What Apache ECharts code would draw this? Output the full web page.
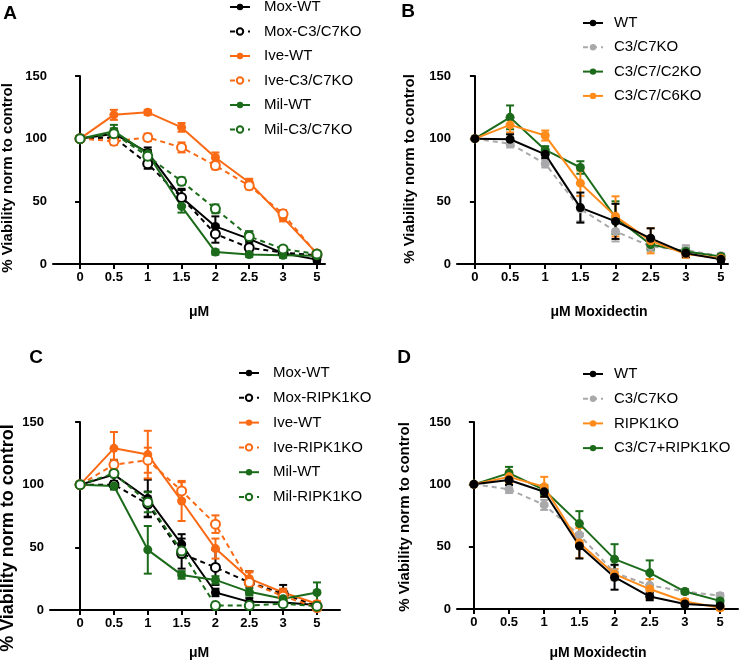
<!DOCTYPE html>
<html>
<head>
<meta charset="utf-8">
<script src="https://cdn.jsdelivr.net/npm/echarts@6/dist/echarts.min.js"></script>
<style>
    html, body { margin: 0; padding: 0; background: #fff; }
    #chart { width: 740px; height: 662px; }
</style>
</head>
<body>
<div id="chart"></div>
<script>
// x轴剂量标签
var doses = ['0', '0.5', '1', '1.5', '2', '2.5', '3', '5'];
var yTicks = [0, 50, 100, 150];

// A 图数据
var aMoxWT = [100, 104, 89, 53, 30, 20, 8.5, 3.5];
var aMoxWTErr = [0, 4, 4, 7, 8, 6, 3, 2];
var aMoxKO = [100, 101, 80, 53, 24, 13, 9, 7];
var aMoxKOErr = [0, 5, 4, 6, 7, 4, 2, 2];
var aIveWT = [100, 119, 121, 109, 85, 65, 37, 8.5];
var aIveWTErr = [0, 4, 2, 3.5, 4, 3, 3, 2];
var aIveKO = [100, 98, 101, 93, 78.5, 62.5, 40, 8];
var aIveKOErr = [0, 3, 3, 4, 3, 3, 3, 2];
var aMilWT = [100, 106, 88, 46, 9.5, 7.5, 7, 6.5];
var aMilWTErr = [0, 5, 3, 5, 2, 2, 2, 2];
var aMilKO = [100, 104, 86, 66, 44, 22, 12, 8];
var aMilKOErr = [0, 4, 3, 3, 3.5, 4, 2, 2];

// B 图数据
var bWT = [100, 99.5, 87.5, 45, 34, 20.5, 8.5, 3.7];
var bWTErr = [0, 4, 3, 12, 14, 8, 3, 2];
var bC3C7 = [100, 96, 80, 44, 26, 14, 11, 6.5];
var bC3C7Err = [0, 3, 3, 10, 8, 4, 4, 2];
var bC2 = [100, 117, 91, 77, 37, 15.5, 10, 6];
var bC2Err = [0, 9.5, 3, 5, 13, 4, 3, 2];
var bC6 = [100, 111, 102.5, 64.5, 38, 18.5, 8, 4.5];
var bC6Err = [0, 6, 4, 10, 16, 10, 3, 2];

// C 图数据
var cMoxWT = [100, 108, 89, 52.5, 14, 6.5, 6, 4];
var cMoxWTErr = [0, 8, 15, 8, 3, 3, 3, 2];
var cMoxKO = [100, 100, 84.5, 45, 34, 22, 13, 3];
var cMoxKOErr = [0, 3, 10, 12, 14, 9, 7, 2];
var cIveWT = [100, 129, 124, 87, 49, 25, 14, 5];
var cIveWTErr = [0, 13, 19, 16, 8, 6, 3, 2];
var cIveKO = [100, 116, 119.5, 95, 68.5, 22, 11, 2];
var cIveKOErr = [0, 4, 10, 7, 7, 8, 4, 2];
var cMilWT = [100, 99, 48, 28, 24, 14.5, 9, 14];
var cMilWTErr = [0, 3, 19, 3, 3, 3, 3, 8];
var cMilKO = [100, 109, 86, 47, 3.5, 3.5, 5, 3];
var cMilKOErr = [0, 10, 8, 5, 2, 2, 2, 2];

// D 图数据
var dWT = [100, 103.5, 94, 50.5, 25.5, 10, 4, 2.5];
var dWTErr = [0, 4, 4, 10, 10, 3, 2, 2];
var dC3C7 = [100, 96, 83.5, 59.5, 29, 19, 14, 10.7];
var dC3C7Err = [0, 3, 4, 6, 6, 5, 2, 2];
var dRIPK1 = [100, 106, 98, 53, 28, 16, 6, 1];
var dRIPK1Err = [0, 5, 8, 12, 4, 8, 2, 2];
var dBoth = [100, 109, 95.5, 68.5, 40, 29, 14, 6.5];
var dBothErr = [0, 5, 4, 10, 12, 10, 2, 2];

// 颜色
var BLACK = '#000000';
var RED_ORANGE = '#FA6A14';
var ORANGE = '#FF8C1A';
var GREEN = '#1B6B1B';
var GRAY = '#A9A9AB';

var FONT = 'Liberation Sans, Arial, sans-serif';

// 基于准备好的dom，初始化echarts实例
var myChart = echarts.init(document.getElementById('chart'));

/**
 * [误差线绘制]
 */
function renderErr(params, api) {
    let x = api.value(0);
    let lo = api.coord([x, api.value(1)]);
    let hi = api.coord([x, api.value(2)]);
    let w = 4;
    let style = { stroke: api.visual('color'), lineWidth: 2 };
    return {
        type: 'group',
        children: [
            { type: 'line', shape: { x1: lo[0], y1: lo[1], x2: hi[0], y2: hi[1] }, style: style },
            { type: 'line', shape: { x1: lo[0] - w, y1: lo[1], x2: lo[0] + w, y2: lo[1] }, style: style },
            { type: 'line', shape: { x1: hi[0] - w, y1: hi[1], x2: hi[0] + w, y2: hi[1] }, style: style }
        ]
    };
}

var series = [];

/**
 * [添加一条曲线和它的误差线]
 * @param panel  [图序号]
 * @param name   [名称]
 * @param values [均值]
 * @param errs   [误差]
 * @param color  [颜色]
 * @param dashed [是否虚线]
 * @param open   [是否空心点]
 */
function addLine(panel, name, values, errs, color, dashed, open) {
    let errData = [];
    for (let i = 0; i < values.length; i++) {
        if (errs[i] > 0) {
            errData.push([i, values[i] - errs[i], values[i] + errs[i]]);
        }
    }
    series.push({
        type: 'custom',
        name: name + ' err',
        xAxisIndex: panel,
        yAxisIndex: panel,
        itemStyle: { color: color },
        renderItem: renderErr,
        data: errData,
        silent: true,
        z: 2
    });
    series.push({
        type: 'line',
        name: name,
        xAxisIndex: panel,
        yAxisIndex: panel,
        data: values.map(function (v, i) { return [i, v]; }),
        symbol: open ? 'emptyCircle' : 'circle',
        symbolSize: 9,
        lineStyle: { color: color, width: 2, type: dashed ? [5, 4] : 'solid' },
        itemStyle: { color: color, borderWidth: open ? 2 : 0 },
        emphasis: { disabled: true },
        z: 3
    });
}

addLine(0, 'Mox-WT', aMoxWT, aMoxWTErr, BLACK, false, false);
addLine(0, 'Mox-C3/C7KO', aMoxKO, aMoxKOErr, BLACK, true, true);
addLine(0, 'Ive-WT', aIveWT, aIveWTErr, RED_ORANGE, false, false);
addLine(0, 'Ive-C3/C7KO', aIveKO, aIveKOErr, RED_ORANGE, true, true);
addLine(0, 'Mil-WT', aMilWT, aMilWTErr, GREEN, false, false);
addLine(0, 'Mil-C3/C7KO', aMilKO, aMilKOErr, GREEN, true, true);

addLine(1, 'C3/C7KO', bC3C7, bC3C7Err, GRAY, true, false);
addLine(1, 'C3/C7/C2KO', bC2, bC2Err, GREEN, false, false);
addLine(1, 'C3/C7/C6KO', bC6, bC6Err, ORANGE, false, false);
addLine(1, 'WT', bWT, bWTErr, BLACK, false, false);

addLine(2, 'Mox-WT', cMoxWT, cMoxWTErr, BLACK, false, false);
addLine(2, 'Mox-RIPK1KO', cMoxKO, cMoxKOErr, BLACK, true, true);
addLine(2, 'Ive-WT', cIveWT, cIveWTErr, RED_ORANGE, false, false);
addLine(2, 'Ive-RIPK1KO', cIveKO, cIveKOErr, RED_ORANGE, true, true);
addLine(2, 'Mil-WT', cMilWT, cMilWTErr, GREEN, false, false);
addLine(2, 'Mil-RIPK1KO', cMilKO, cMilKOErr, GREEN, true, true);

addLine(3, 'C3/C7KO', dC3C7, dC3C7Err, GRAY, true, false);
addLine(3, 'C3/C7+RIPK1KO', dBoth, dBothErr, GREEN, false, false);
addLine(3, 'RIPK1KO', dRIPK1, dRIPK1Err, ORANGE, false, false);
addLine(3, 'WT', dWT, dWTErr, BLACK, false, false);

// 四个图的位置
var grids = [
    { left: 53, top: 76, width: 272, height: 188 },
    { left: 457, top: 76, width: 271, height: 188 },
    { left: 50, top: 422, width: 290, height: 188 },
    { left: 457, top: 422, width: 281, height: 187 }
];
var xRanges = [[-0.8, 7.24], [-0.51, 7.2], [-0.89, 7.68], [-0.48, 7.51]];
var tickIdx = doses.map(function (d, i) { return i; });

var xAxes = [];
var yAxes = [];
for (let i = 0; i < 4; i++) {
    xAxes.push({
        type: 'value',
        gridIndex: i,
        min: xRanges[i][0],
        max: xRanges[i][1],
        axisLine: { lineStyle: { color: '#000', width: 2 } },
        axisTick: { customValues: tickIdx, length: 5, lineStyle: { color: '#000', width: 2 } },
        axisLabel: {
            customValues: tickIdx,
            formatter: function (v) { return doses[Math.round(v)]; },
            color: '#000', fontWeight: 'bold', fontSize: 13, fontFamily: FONT, margin: 7
        },
        splitLine: { show: false }
    });
    yAxes.push({
        type: 'value',
        gridIndex: i,
        min: 0,
        max: 150,
        axisLine: { show: true, lineStyle: { color: '#000', width: 2 } },
        axisTick: { show: true, customValues: yTicks, length: 5, lineStyle: { color: '#000', width: 2 } },
        axisLabel: {
            customValues: yTicks,
            color: '#000', fontWeight: 'bold', fontSize: 13, fontFamily: FONT, margin: 6
        },
        splitLine: { show: false }
    });
}

/**
 * [图例]
 */
function makeLegend(names, left, top, gap, pad) {
    return {
        data: names,
        orient: 'vertical',
        left: left,
        top: top,
        padding: 0,
        itemWidth: 20,
        itemHeight: 8,
        itemGap: gap,
        selectedMode: false,
        textStyle: { fontSize: 15, fontFamily: FONT, color: '#000', lineHeight: 16, padding: [0, 0, 0, pad] }
    };
}

var legends = [
    makeLegend(['Mox-WT', 'Mox-C3/C7KO', 'Ive-WT', 'Ive-C3/C7KO', 'Mil-WT', 'Mil-C3/C7KO'], 229, -1, 8.5, 9),
    makeLegend(['WT', 'C3/C7KO', 'C3/C7/C2KO', 'C3/C7/C6KO'], 582, 15, 8.3, 6),
    makeLegend(['Mox-WT', 'Mox-RIPK1KO', 'Ive-WT', 'Ive-RIPK1KO', 'Mil-WT', 'Mil-RIPK1KO'], 238, 365, 8.8, 9),
    makeLegend(['WT', 'C3/C7KO', 'RIPK1KO', 'C3/C7+RIPK1KO'], 582, 366, 8.7, 6)
];

/**
 * [文字]
 */
function label(text, x, y, size, rotate) {
    return {
        type: 'text',
        x: x,
        y: y,
        rotation: rotate ? Math.PI / 2 : 0,
        style: {
            text: text,
            fontSize: size,
            fontWeight: 'bold',
            fontFamily: FONT,
            fill: '#000',
            align: 'center',
            verticalAlign: 'middle'
        }
    };
}

var graphics = [
    label('A', 10, 14, 19),
    label('B', 408, 12, 19),
    label('C', 36, 358, 19),
    label('D', 404, 358, 19),
    label('μM', 199, 312, 14),
    label('μM Moxidectin', 599, 312, 14),
    label('μM', 199, 653, 14),
    label('μM Moxidectin', 598, 653, 14),
    label('% Viability norm to control', 8, 178, 15, true),
    label('% Viability norm to control', 410, 169, 15, true),
    label('% Viability norm to control', 8, 538, 18, true),
    label('% Viability norm to control', 405, 517, 15, true)
];

var option = {
    animation: false,
    backgroundColor: '#fff',
    grid: grids,
    xAxis: xAxes,
    yAxis: yAxes,
    legend: legends,
    graphic: graphics,
    series: series
};

myChart.setOption(option);
</script>
</body>
</html>
